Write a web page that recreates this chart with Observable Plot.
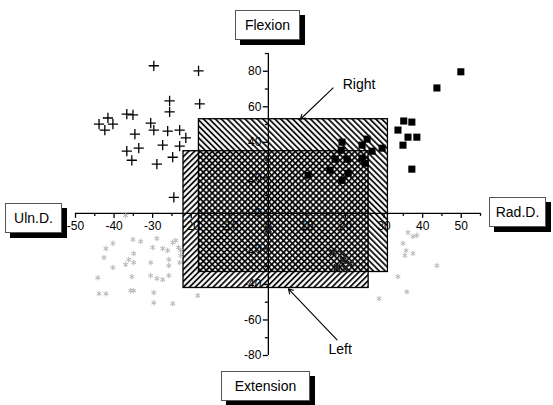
<!DOCTYPE html>
<html>
<head>
<meta charset="utf-8">
<script src="https://cdn.jsdelivr.net/npm/d3@7"></script>
<script src="https://cdn.jsdelivr.net/npm/@observablehq/plot@0.6"></script>
<style>
  body { margin: 0; background: #fff; font-family: "Liberation Sans", Arial, sans-serif; }
  #wrap { position: relative; width: 553px; height: 405px; }
  .tag {
    position: absolute; box-sizing: border-box; background: #fff;
    border: 1px solid #555; box-shadow: 5px 5px 0 #000;
    font-size: 14px; color: #000;
    display: flex; align-items: center; justify-content: center;
  }
</style>
</head>
<body>
<div id="wrap"></div>
<script>
// Deviation (x, degrees) and flexion/extension (y, degrees) samples
const crossX = [-29.7, -18.1, -25.6, -17.8, -25.6, -36.7, -35.1, -41.6, -43.9, -40.3, -42.4, -30.5, -29.7, -26.1, -23.0, -21.4, -34.6, -27.4, -23.0, -33.6, -36.7, -24.8, -35.4, -28.9, -24.5];
const crossY = [83.1, 80.2, 63.3, 61.6, 57.1, 55.9, 55.4, 53.7, 50.3, 50.3, 46.9, 50.8, 46.9, 46.3, 46.9, 42.5, 44.6, 38.4, 37.9, 36.7, 35.0, 31.6, 29.9, 27.7, 9.0];

const squareX = [49.9, 43.7, 35.1, 37.2, 33.6, 36.2, 38.5, 34.9, 37.2, 19.1, 18.9, 25.6, 24.3, 26.9, 29.5, 17.3, 20.4, 24.3, 25.1, 16.0, 20.7, 10.3, 19.1];
const squareY = [79.7, 70.6, 52.0, 51.4, 46.9, 42.9, 42.9, 38.4, 24.9, 40.1, 35.6, 41.8, 38.4, 35.0, 36.7, 30.5, 30.5, 31.1, 28.2, 24.3, 22.6, 21.5, 18.6];

const darkX = [16.8, 19.1, 19.4, 21.2, 17.8, 19.9, 0.0];
const darkY = [-22.0, -22.6, -26.6, -28.2, -30.5, -31.1, -9.0];

const faintX = [-37.0, -35.1, -33.1, -28.9, -42.1, -40.3, -42.6, -34.9, -36.2, -30.0, -27.4, -26.1, -24.8, -24.0, -23.3, -22.7, -22.7, -30.5, -25.8, -34.9, -37.0, -40.3, -25.8, -23.0, -44.2, -35.4, -30.5, -28.9, -27.4, -25.8, -43.9, -42.1, -35.7, -34.9, -29.7, -29.7, -24.8, -18.3,
                36.2, 37.5, 38.5, 34.9, 35.7, 35.4, 37.5, 33.6, 35.9, 28.7, 43.7];
const faintY = [-1.1, -14.7, -15.8, -14.1, -19.8, -16.9, -24.9, -22.6, -26.0, -19.2, -19.8, -20.9, -16.4, -15.3, -19.2, -20.9, -23.7, -27.7, -26.0, -27.7, -28.8, -30.5, -29.4, -27.7, -36.2, -35.6, -35.0, -36.7, -37.3, -35.0, -45.2, -45.2, -43.5, -43.5, -44.6, -50.3, -50.8, -46.3,
                -10.7, -13.0, -12.4, -16.9, -20.9, -23.7, -22.6, -35.6, -44.1, -48.0, -29.4];

// Range-of-motion boxes
const boxNames = ["Right", "Left"];
const boxX1 = [-18, -22];
const boxX2 = [31, 26];
const boxY1 = [-33, -42];
const boxY2 = [53, 35];

// Box callouts: label position and arrow tip
const noteText = ["Right", "Left"];
const noteX = [23.5, 18.6];
const noteY = [72.5, -76.5];
const noteFromX = [16.8, 17.8];
const noteFromY = [70.6, -71.2];
const noteToX = [8.3, 5.2];
const noteToY = [53.0, -42.5];

// Axis ticks
const xMajor = [-50, -40, -30, -20, -10, 0, 10, 20, 30, 40, 50];
const xMinor = [-45, -35, -25, -15, -5, 5, 15, 25, 35, 45, 55];
const yMajor = [-80, -60, -40, -20, 0, 20, 40, 60, 80];
const yMinor = [-70, -50, -30, -10, 10, 30, 50, 70, 90];

const pts = (xs, ys) => xs.map((x, i) => ({x, y: ys[i]}));
const boxes = boxNames.map((name, i) => ({name, x1: boxX1[i], x2: boxX2[i], y1: boxY1[i], y2: boxY2[i]}));
const notes = noteText.map((text, i) => ({text, x: noteX[i], y: noteY[i], x1: noteFromX[i], y1: noteFromY[i], x2: noteToX[i], y2: noteToY[i]}));

const W = 553, H = 405;
const M = {top: 53, right: 73, bottom: 50, left: 75};
const xDomain = [-50, 55], yDomain = [-80, 90];

// Offsets that move the frame-anchored axes onto the zero lines
const xScale = d3.scaleLinear(xDomain, [M.left, W - M.right]);
const yScale = d3.scaleLinear(yDomain, [H - M.bottom, M.top]);
const shiftX = yScale(0) - (H - M.bottom);
const shiftY = xScale(0) - M.left;
const fmt = d => `${d}`;

const chart = Plot.plot({
  width: W, height: H,
  marginTop: M.top, marginRight: M.right, marginBottom: M.bottom, marginLeft: M.left,
  x: {domain: xDomain},
  y: {domain: yDomain},
  style: {fontFamily: "'Liberation Sans', Arial, sans-serif", fontSize: "12px", background: "#fff", color: "#000", overflow: "visible"},
  marks: [
    Plot.ruleY([0], {stroke: "#000", strokeWidth: 1.3}),
    Plot.ruleX([0], {stroke: "#000", strokeWidth: 1.3}),
    Plot.axisX(xMajor, {anchor: "bottom", tickSize: 5, tickPadding: 3, strokeWidth: 1.3, label: null, tickFormat: fmt, dy: shiftX}),
    Plot.axisX(xMinor, {anchor: "bottom", tickSize: 3, strokeWidth: 1.3, fill: "none", label: null, dy: shiftX}),
    Plot.axisY(yMajor, {anchor: "left", tickSize: 5, tickPadding: 2, strokeWidth: 1.3, label: null, tickFormat: fmt, dx: shiftY}),
    Plot.axisY(yMinor, {anchor: "left", tickSize: 3, strokeWidth: 1.3, fill: "none", label: null, dx: shiftY}),
    Plot.rect(boxes.filter(d => d.name === "Right"), {x1: "x1", x2: "x2", y1: "y1", y2: "y2", fill: "url(#hatch-back)", stroke: "#000", strokeWidth: 1.3}),
    Plot.rect(boxes.filter(d => d.name === "Left"), {x1: "x1", x2: "x2", y1: "y1", y2: "y2", fill: "url(#hatch-fwd)", stroke: "#000", strokeWidth: 1.3}),
    Plot.dot(pts(faintX, faintY), {x: "x", y: "y", symbol: "asterisk", r: 2.6, stroke: "#b5b5b5", strokeWidth: 1}),
    Plot.dot(pts(darkX, darkY), {x: "x", y: "y", symbol: "times", r: 3, stroke: "#222", strokeWidth: 1.8}),
    Plot.dot(pts(crossX, crossY), {x: "x", y: "y", symbol: "plus", r: 3.4, stroke: "#000", strokeWidth: 1.3}),
    Plot.dot(pts(squareX, squareY), {x: "x", y: "y", symbol: "square", r: 4, fill: "#000"}),
    Plot.arrow(notes, {x1: "x1", y1: "y1", x2: "x2", y2: "y2", stroke: "#000", strokeWidth: 1.1, headLength: 7}),
    Plot.text(notes, {x: "x", y: "y", text: "text", fontSize: 14, fill: "#000"})
  ]
});

// Hatch patterns for the two boxes
const defs = d3.select(chart).insert("defs", ":first-child");
[["hatch-back", -45], ["hatch-fwd", 45]].forEach(([id, angle]) => {
  const p = defs.append("pattern")
    .attr("id", id).attr("patternUnits", "userSpaceOnUse")
    .attr("width", 4.2).attr("height", 4.2)
    .attr("patternTransform", `rotate(${angle})`);
  p.append("line").attr("x1", 1).attr("y1", 0).attr("x2", 1).attr("y2", 4.2)
    .attr("stroke", "#000").attr("stroke-width", 1.7);
});

const wrap = document.getElementById("wrap");
wrap.appendChild(chart);

// Boxed axis titles around the cross
const tagText = ["Flexion", "Extension", "Uln.D.", "Rad.D."];
const tagBox = [[235, 10, 65, 30], [221, 371, 89, 30], [5, 203, 57, 30], [489, 197, 57, 30]];
tagText.forEach((t, i) => {
  const [l, tp, w, h] = tagBox[i];
  const el = document.createElement("div");
  el.className = "tag";
  el.textContent = t;
  Object.assign(el.style, {left: l + "px", top: tp + "px", width: w + "px", height: h + "px"});
  wrap.appendChild(el);
});
</script>
</body>
</html>
